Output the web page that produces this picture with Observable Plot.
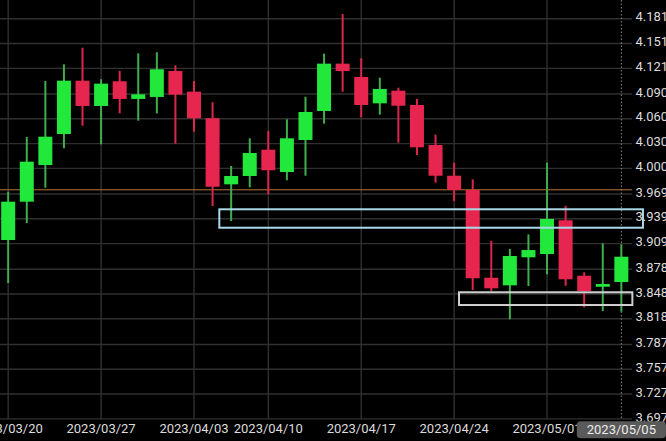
<!DOCTYPE html>
<html>
<head>
<meta charset="utf-8">
<script src="https://cdn.jsdelivr.net/npm/d3@7"></script>
<script src="https://cdn.jsdelivr.net/npm/@observablehq/plot@0.6"></script>
<style>
  html, body { margin: 0; padding: 0; background: #000; }
  #chart { width: 666px; height: 441px; overflow: hidden; }
</style>
</head>
<body>
<div id="chart"></div>
<script>
const dates = ["2023/03/20","2023/03/21","2023/03/22","2023/03/23","2023/03/24",
  "2023/03/27","2023/03/28","2023/03/29","2023/03/30","2023/03/31",
  "2023/04/03","2023/04/04","2023/04/05","2023/04/06",
  "2023/04/10","2023/04/11","2023/04/12","2023/04/13","2023/04/14",
  "2023/04/17","2023/04/18","2023/04/19","2023/04/20","2023/04/21",
  "2023/04/24","2023/04/25","2023/04/26","2023/04/27","2023/04/28",
  "2023/05/01","2023/05/02","2023/05/03","2023/05/04","2023/05/05"];
const open  = [3.9127,3.9591,4.0035,4.0410,4.1055,4.0749,4.1048,4.0834,4.0858,4.1172,4.0922,4.0600,3.9801,3.9902,4.0220,3.9950,4.0337,4.0688,4.1261,4.1100,4.0781,4.0934,4.0761,4.0277,3.9905,3.9732,3.8671,3.8579,3.8918,3.8958,3.9366,3.8695,3.8562,3.8619];
const close = [3.9591,4.0075,4.0377,4.1055,4.0749,4.1019,4.0834,4.0890,4.1193,4.0886,4.0600,3.9772,3.9902,4.0180,3.9971,4.0358,4.0676,4.1261,4.1172,4.0761,4.0955,4.0752,4.0249,3.9905,3.9732,3.8664,3.8543,3.8934,3.9006,3.9382,3.8652,3.8510,3.8595,3.8925];
const high  = [3.9712,4.0374,4.1051,4.1253,4.1454,4.1072,4.1172,4.1386,4.1399,4.1241,4.1051,4.0794,4.0023,4.0358,4.0446,4.0588,4.0861,4.1382,4.1862,4.1326,4.1091,4.0970,4.0834,4.0402,4.0063,3.9862,3.9115,3.9019,3.9196,4.0063,3.9542,3.8737,3.9087,3.9075];
const low   = [3.8607,3.9333,3.9760,4.0237,4.0510,4.0285,4.0660,4.0571,4.0660,4.0293,4.0438,3.9539,3.9357,3.9765,3.9680,3.9850,3.9905,4.0535,4.0922,4.0612,4.0644,4.0305,4.0156,3.9821,3.9599,3.8522,3.8510,3.8168,3.8571,3.8712,3.8574,3.8313,3.8268,3.8260];

const xTickLabels = ["2023/03/20","2023/03/27","2023/04/03","2023/04/10","2023/04/17","2023/04/24","2023/05/01"];
const yTickLabels = ["4.181","4.151","4.121","4.090","4.060","4.030","4.000","3.969","3.939","3.909","3.878","3.848","3.818","3.787","3.757","3.727","3.697"];

// reference line & zones (x in trading-day index units, y in price)
const refLine = [3.9741];
const zoneX1 = [11.39, 24.29];
const zoneX2 = [34.19, 33.62];
const zoneY1 = [3.9276, 3.8341];
const zoneY2 = [3.9499, 3.8495];
const zoneColors = ["#a9d9e8", "#d0d0d0"];
const crosshairDate = "2023/05/05";

const candles = dates.map((d, i) => ({i, date: d, open: open[i], close: close[i], high: high[i], low: low[i], up: close[i] >= open[i]}));
const zones = zoneX1.map((x1, k) => ({x1, x2: zoneX2[k], y1: zoneY1[k], y2: zoneY2[k], color: zoneColors[k]}));
const xTicks = xTickLabels.map(l => dates.indexOf(l));
const yTicks = yTickLabels.map(Number);
const crossIdx = dates.indexOf(crosshairDate);

const UP = "#22e83c", DOWN = "#e6264f", UPW = "#3fae4c", DOWNW = "#dc264b";

const plot = Plot.plot({
  width: 666,
  height: 441,
  marginLeft: 0,
  marginRight: 34,
  marginTop: 0,
  marginBottom: 22,
  style: {background: "#000", color: "#dcdcdc", fontFamily: "Roboto, sans-serif", fontSize: "13px", overflow: "visible"},
  x: {type: "linear", domain: [-0.414, 33.6]},
  y: {domain: [3.6962, 4.2031]},
  marks: [
    Plot.gridY(yTicks, {stroke: "#303030", strokeOpacity: 1, strokeWidth: 1.4}),
    Plot.gridX(xTicks, {stroke: "#303030", strokeOpacity: 1, strokeWidth: 1.4}),
    Plot.ruleY(refLine, {stroke: "#b8753a", strokeWidth: 1}),
    Plot.ruleX([crossIdx], {stroke: "#8a8a8a", strokeWidth: 1, strokeDasharray: "1.5,2"}),
    Plot.ruleX(candles, {x: "i", y1: "low", y2: "high", stroke: d => d.up ? UPW : DOWNW, strokeWidth: 2}),
    Plot.ruleX(candles, {x: "i", y1: "open", y2: "close", stroke: d => d.up ? UP : DOWN, strokeWidth: 14}),
    Plot.rect(zones, {x1: "x1", x2: "x2", y1: "y1", y2: "y2", fill: "none", stroke: "color", strokeWidth: 2}),
    Plot.axisY(yTicks, {anchor: "right", tickSize: 0, tickPadding: 3, dy: -1.5, tickFormat: (d, k) => yTickLabels[k], color: "#dcdcdc", fontSize: 13}),
    Plot.axisX(xTicks, {anchor: "bottom", tickSize: 0, tickPadding: 4, tickFormat: d => dates[d], color: "#dcdcdc", fontSize: 13}),
    Plot.text([crosshairDate], {x: [crossIdx], frameAnchor: "bottom", lineAnchor: "middle", dy: 10.5, text: d => d, fill: "#ececec", fontSize: 13})
  ]
});
document.getElementById("chart").appendChild(plot);

// background box behind the crosshair date label
const lbl = Array.from(plot.querySelectorAll("text")).find(t => t.textContent === crosshairDate);
if (lbl) {
  const bb = lbl.getBBox();
  const ns = "http://www.w3.org/2000/svg";
  const r = document.createElementNS(ns, "rect");
  r.setAttribute("x", bb.x - 10);
  r.setAttribute("y", bb.y - 1);
  r.setAttribute("width", bb.width + 20);
  r.setAttribute("height", bb.height + 2);
  r.setAttribute("rx", 4);
  r.setAttribute("fill", "#5a5a5a");
  const tr = lbl.getAttribute("transform");
  if (tr) r.setAttribute("transform", tr);
  lbl.parentNode.insertBefore(r, lbl);
}
</script>
</body>
</html>
